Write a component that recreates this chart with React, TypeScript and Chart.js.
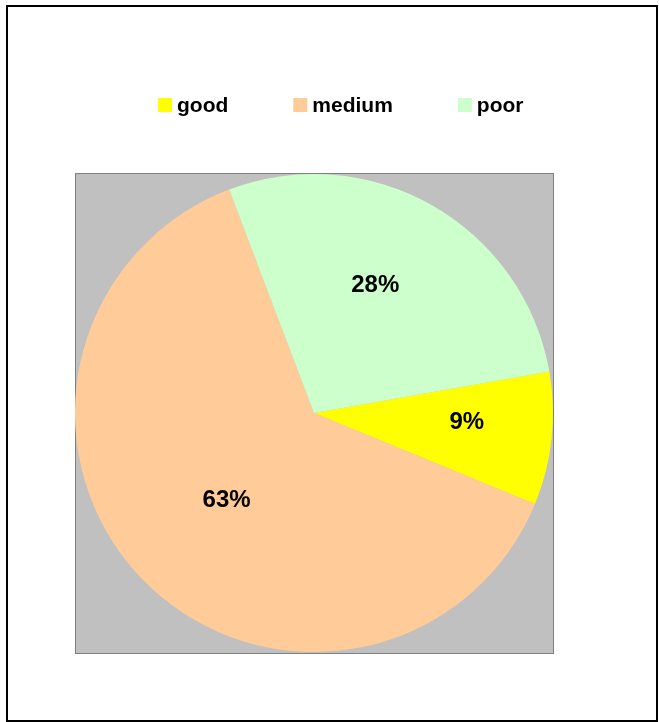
import React, { useEffect, useRef } from "react";
import { Chart, registerables } from "chart.js";

Chart.register(...registerables);

// ---- data ----
const categories: string[] = ["good", "medium", "poor"];
const shares: number[] = [9, 63, 28];
const sliceColors: string[] = ["#FFFF00", "#FFCC99", "#CCFFCC"];

// ---- style ----
const FONT = '"Liberation Sans", Arial, Helvetica, sans-serif';
const labelRadius = [0.64, 0.51, 0.6];
const labelSpan = [0.4, 0.5, 0.457];

const CANVAS_W = 648;
const CANVAS_H = 713;

export default function App() {
  const ref = useRef<HTMLCanvasElement | null>(null);

  useEffect(() => {
    if (!ref.current) return;

    const plotBg = {
      id: "plotBg",
      beforeDraw(chart: any) {
        const { ctx, chartArea: a } = chart;
        ctx.save();
        ctx.fillStyle = "#C0C0C0";
        ctx.fillRect(a.left, a.top, a.right - a.left, a.bottom - a.top);
        ctx.strokeStyle = "#808080";
        ctx.lineWidth = 1;
        ctx.strokeRect(a.left + 0.5, a.top + 0.5, a.right - a.left, a.bottom - a.top);
        ctx.restore();
      },
    };

    const legendPlugin = {
      id: "customLegend",
      afterDraw(chart: any) {
        const { ctx } = chart;
        const labels: string[] = chart.data.labels;
        const colors: string[] = chart.data.datasets[0].backgroundColor;
        ctx.save();
        ctx.font = `bold 21px ${FONT}`;
        ctx.textBaseline = "alphabetic";
        ctx.textAlign = "left";
        let x = 150;
        const boxTop = 91;
        const box = 14;
        labels.forEach((t, i) => {
          ctx.fillStyle = colors[i];
          ctx.fillRect(x, boxTop, box, box);
          const tx = x + box + 5;
          ctx.fillStyle = "#000";
          ctx.fillText(t, tx, boxTop + box);
          x = tx + ctx.measureText(t).width + 65;
        });
        ctx.restore();
      },
    };

    const dataLabels = {
      id: "pctLabels",
      afterDatasetsDraw(chart: any) {
        const { ctx } = chart;
        const meta = chart.getDatasetMeta(0);
        const vals: number[] = chart.data.datasets[0].data;
        const total = vals.reduce((s, v) => s + v, 0);
        ctx.save();
        ctx.font = `bold 24px ${FONT}`;
        ctx.fillStyle = "#000";
        ctx.textAlign = "center";
        ctx.textBaseline = "alphabetic";
        meta.data.forEach((arc: any, i: number) => {
          const p = arc.getProps(["x", "y", "startAngle", "endAngle", "outerRadius"], true);
          const ang = p.startAngle + (p.endAngle - p.startAngle) * labelSpan[i];
          const r = p.outerRadius * labelRadius[i];
          const cx = p.x + Math.cos(ang) * r;
          const cy = p.y + Math.sin(ang) * r;
          const txt = `${Math.round((vals[i] / total) * 100)}%`;
          ctx.fillText(txt, cx, cy + 24 * 0.358);
        });
        ctx.restore();
      },
    };

    const chart = new Chart(ref.current, {
      type: "pie",
      data: {
        labels: categories,
        datasets: [
          {
            data: shares,
            backgroundColor: sliceColors,
            borderWidth: 0,
          },
        ],
      },
      options: {
        responsive: false,
        animation: false,
        devicePixelRatio: 1,
        rotation: 80,
        layout: { padding: { left: 67, right: 103, top: 166, bottom: 67 } },
        plugins: {
          legend: { display: false },
          tooltip: { enabled: false },
          title: { display: false },
        },
      },
      plugins: [plotBg, dataLabels, legendPlugin],
    } as any);

    return () => chart.destroy();
  }, []);

  return (
    <div
      style={{
        position: "absolute",
        left: 6,
        top: 5,
        width: 652,
        height: 717,
        border: "2px solid #000",
        boxSizing: "border-box",
        background: "#fff",
      }}
    >
      <canvas
        ref={ref}
        width={CANVAS_W}
        height={CANVAS_H}
        style={{ position: "absolute", left: 0, top: 0, width: CANVAS_W, height: CANVAS_H }}
      />
    </div>
  );
}
